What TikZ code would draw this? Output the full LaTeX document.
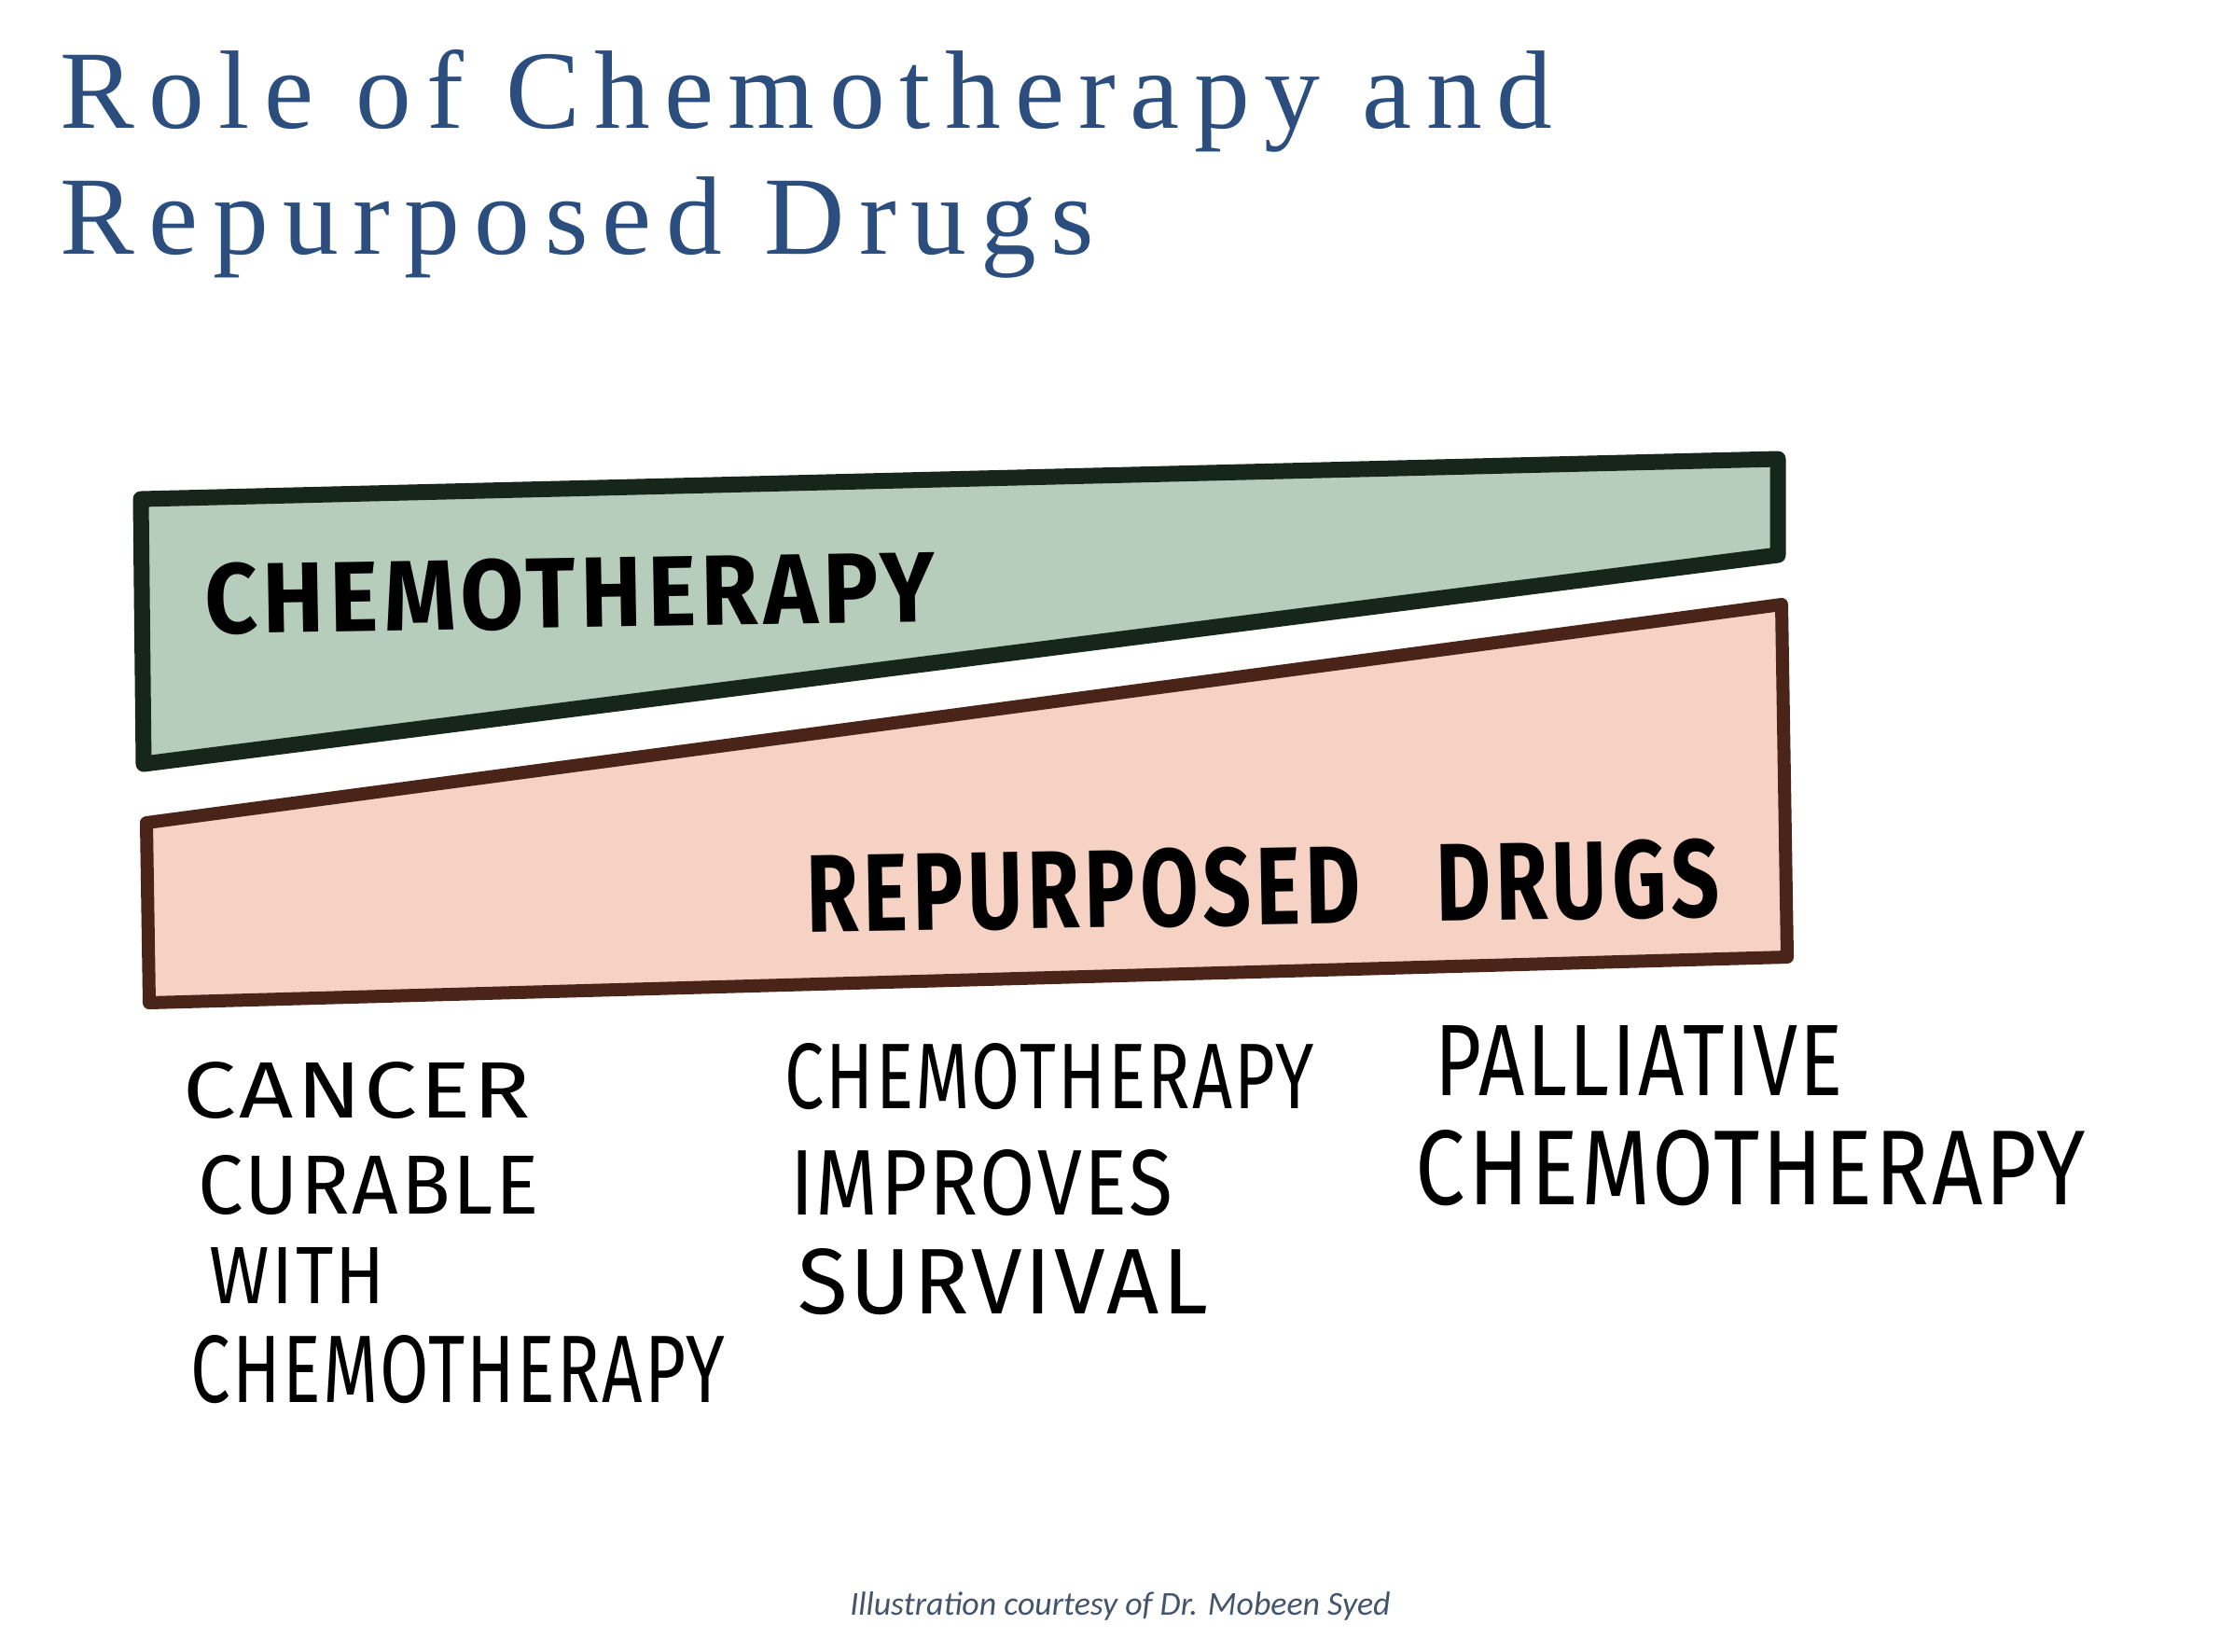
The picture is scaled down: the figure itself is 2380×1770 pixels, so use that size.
\documentclass[tikz,border=0pt]{standalone}
\usepackage{fontspec}
\usepackage{graphicx}
\setmainfont{Liberation Serif}
\newfontfamily\titlefont[LetterSpace=12.9]{Liberation Serif}
\newfontfamily\capfont{Carlito}
\newfontfamily\handfont[LetterSpace=6]{Fira Sans}
\newfontfamily\handthin[LetterSpace=3]{Fira Sans}
\definecolor{titleblue}{HTML}{2B4E7E}
\definecolor{capgray}{HTML}{44546A}
\definecolor{chemofill}{HTML}{B5CDBA}
\definecolor{chemoline}{HTML}{16261A}
\definecolor{repfill}{HTML}{F5D2C4}
\definecolor{repline}{HTML}{4A2418}
\tikzset{
  titletext/.style={anchor=base west, inner sep=0, text=titleblue, font=\titlefont\fontsize{34}{40}\selectfont},
  boxlabel/.style={inner sep=0, font=\handfont\bfseries},
  hwlabel/.style={inner sep=0, font=\handthin},
  band/.style={line join=round}
}
\begin{document}
\begin{tikzpicture}[x=0.1mm,y=-0.1mm]
\useasboundingbox[fill=white] (0,0) rectangle (2380,1770);

% title
\node[titletext] (t1) at (64,137) {Role of Chemotherapy and};
\node[titletext] (t2) at (64,272) {Repurposed Drugs};

% bands
\draw[band, fill=chemofill, draw=chemoline, line width=1.7mm]
  (151,535) -- (1906,492) -- (1906,595) -- (154,819) -- cycle;
\draw[band, fill=repfill, draw=repline, line width=1.4mm]
  (157,882) -- (1910,648) -- (1916,1026) -- (160,1075) -- cycle;

\node[boxlabel, rotate=1] (chemo) at (611,636) {\resizebox{78.2mm}{7.6mm}{CHEMOTHERAPY}};
\node[boxlabel, rotate=1] (rep) at (1354,950) {\resizebox{97.9mm}{8.4mm}{REPURPOSED\hspace{0.9em}DRUGS}};

% bottom labels
\node[hwlabel] (c1a) at (383,1169) {\resizebox{37.2mm}{6.0mm}{CANCER}};
\node[hwlabel] (c1b) at (395,1271) {\resizebox{36.5mm}{6.3mm}{CURABLE}};
\node[hwlabel] (c1c) at (319,1367) {\resizebox{18.8mm}{6.0mm}{WITH}};
\node[hwlabel] (c1d) at (491,1468) {\resizebox{57.2mm}{7.2mm}{CHEMOTHERAPY}};

\node[hwlabel] (c2a) at (1125,1154) {\resizebox{56.7mm}{7.0mm}{CHEMOTHERAPY}};
\node[hwlabel] (c2b) at (1052,1268) {\resizebox{41.0mm}{7.0mm}{IMPROVES}};
\node[hwlabel] (c2c) at (1075,1374) {\resizebox{44.0mm}{7.0mm}{SURVIVAL}};

\node[hwlabel] (c3a) at (1757,1137) {\resizebox{43.8mm}{7.5mm}{PALLIATIVE}};
\node[hwlabel] (c3b) at (1877,1252) {\resizebox{71.8mm}{8.0mm}{CHEMOTHERAPY}};

% caption
\node[anchor=base, inner sep=0, text=capgray, font=\capfont\itshape\fontsize{10.2}{12}\selectfont] (cap) at (1201,1731) {Illustration courtesy of Dr. Mobeen Syed};
\end{tikzpicture}
\end{document}
